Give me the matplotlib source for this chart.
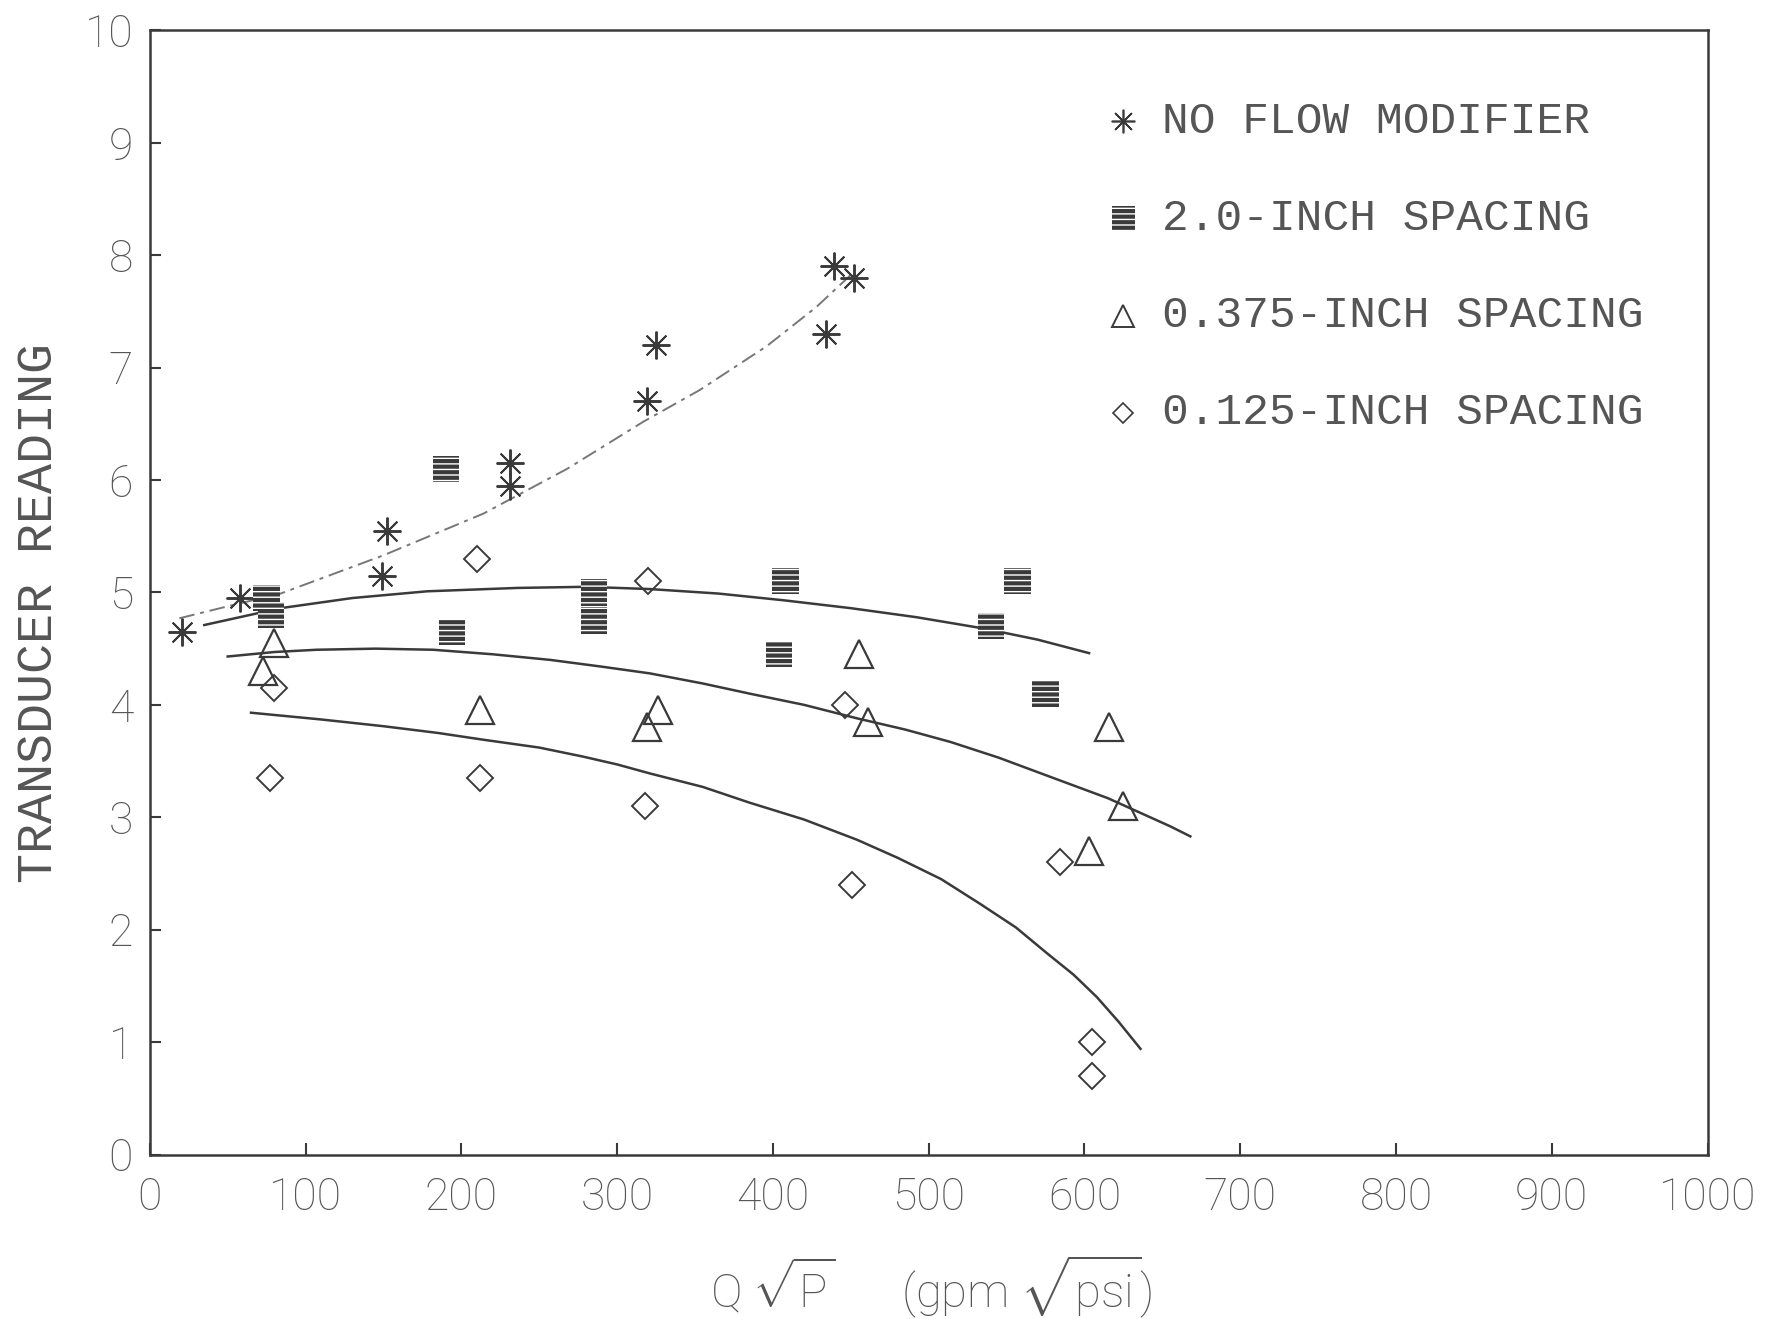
"""
Transducer reading vs Q*sqrt(P) for different flow modifier spacings.
"""

import matplotlib

matplotlib.use("Agg")
import matplotlib.pyplot as plt

plt.rcParams["mathtext.fontset"] = "custom"
plt.rcParams["mathtext.rm"] = "Roboto:light"

# measured points
no_flow_x = [21, 58, 149, 152, 231, 231, 319, 325, 434, 439, 452]
no_flow_y = [4.65, 4.95, 5.15, 5.55, 5.95, 6.15, 6.7, 7.2, 7.3, 7.9, 7.8]

sp20_x = [75, 78, 190, 194, 285, 285, 404, 408, 540, 557, 575]
sp20_y = [4.95, 4.8, 6.1, 4.65, 5.0, 4.75, 4.45, 5.1, 4.7, 5.1, 4.1]

sp375_x = [73, 80, 212, 319, 326, 455, 461, 603, 616, 625]
sp375_y = [4.3, 4.55, 3.95, 3.8, 3.95, 4.45, 3.85, 2.7, 3.8, 3.1]

sp125_x = [77, 80, 210, 212, 318, 320, 446, 451, 584, 605, 605]
sp125_y = [3.35, 4.15, 5.3, 3.35, 3.1, 5.1, 4.0, 2.4, 2.6, 1.0, 0.7]

# fitted curves
fit_noflow_x = [19, 54, 84, 150, 214, 268, 317, 353, 396, 428, 452]
fit_noflow_y = [4.77, 4.89, 4.99, 5.33, 5.70, 6.10, 6.52, 6.80, 7.19, 7.54, 7.85]

fit_20_x = [35, 84, 130, 178, 236, 280, 321, 365, 407, 450, 492, 535, 570, 603]
fit_20_y = [4.71, 4.86, 4.95, 5.01, 5.04, 5.05, 5.03, 4.99, 4.93, 4.86, 4.78, 4.68, 4.58, 4.46]

fit_375_x = [50, 80, 107, 145, 182, 220, 257, 290, 321, 355, 385, 420, 454, 485,
             514, 545, 578, 615, 655, 668]
fit_375_y = [4.43, 4.47, 4.49, 4.50, 4.49, 4.45, 4.40, 4.34, 4.28, 4.19, 4.10, 4.00,
             3.88, 3.78, 3.67, 3.53, 3.36, 3.17, 2.92, 2.83]

fit_125_x = [65, 110, 150, 185, 214, 250, 278, 300, 321, 355, 385, 420, 454, 480,
             508, 533, 556, 576, 593, 608, 622, 636]
fit_125_y = [3.93, 3.87, 3.81, 3.75, 3.69, 3.62, 3.54, 3.47, 3.39, 3.27, 3.13, 2.98,
             2.80, 2.64, 2.45, 2.23, 2.02, 1.79, 1.60, 1.40, 1.18, 0.94]

legend_labels = [
    "NO FLOW MODIFIER",
    "2.0-INCH SPACING",
    "0.375-INCH SPACING",
    "0.125-INCH SPACING",
]
legend_y = [9.19, 8.33, 7.46, 6.60]

x_ticks = list(range(0, 1001, 100))
y_ticks = list(range(0, 11))

INK = "#3a3a3a"
TEXT = "#555555"
tick_font = ["Roboto", "DejaVu Sans"]
mono_font = ["Liberation Mono", "DejaVu Sans Mono"]

fig = plt.figure(figsize=(17.66, 13.19), dpi=100)
ax = fig.add_axes([0.0848, 0.1247, 0.8821, 0.8523])

# curves
ax.plot(fit_noflow_x, fit_noflow_y, color="#777777", lw=1.4, ls=(0, (8, 3, 2, 3)))
ax.plot(fit_20_x, fit_20_y, color=INK, lw=1.8)
ax.plot(fit_375_x, fit_375_y, color=INK, lw=1.8)
ax.plot(fit_125_x, fit_125_y, color=INK, lw=1.8)

# markers
star = dict(marker=(8, 2, 0), ms=20, mew=1.4, color=INK, ls="none")
tri = dict(marker="^", ms=20, mfc="none", mec=INK, mew=1.6, ls="none")
dia = dict(marker="D", ms=13, mfc="none", mec=INK, mew=1.4, ls="none")
sq = dict(marker="s", s=360, facecolor=INK, edgecolor="white", hatch="---", linewidths=0)

ax.plot(no_flow_x, no_flow_y, **star)
ax.scatter(sp20_x, sp20_y, **sq, zorder=3)
ax.plot(sp375_x, sp375_y, **tri)
ax.plot(sp125_x, sp125_y, **dia)

# legend drawn inside the axes, like the plotter output
ax.plot([625], [legend_y[0]], marker=(8, 2, 0), ms=17, mew=1.2, color=INK, ls="none")
ax.scatter([625], [legend_y[1]], marker="s", s=280, facecolor=INK, edgecolor="white",
           hatch="---", linewidths=0, zorder=3)
ax.plot([625], [legend_y[2]], marker="^", ms=16, mfc="none", mec=INK, mew=1.4, ls="none")
ax.plot([625], [legend_y[3]], marker="D", ms=10, mfc="none", mec=INK, mew=1.2, ls="none")
for lbl, ly in zip(legend_labels, legend_y):
    ax.text(650, ly, lbl, fontsize=32, family=mono_font, color=TEXT,
            va="center", ha="left")

ax.set_xlim(0, 1000)
ax.set_ylim(0, 10)
ax.set_xticks(x_ticks)
ax.set_yticks(y_ticks)
ax.set_xticklabels([str(t) for t in x_ticks], family=tick_font, fontsize=32,
                   fontweight="light", color=TEXT)
ax.set_yticklabels([str(t) for t in y_ticks], family=tick_font, fontsize=32,
                   fontweight="light", color=TEXT)
ax.tick_params(axis="x", direction="in", length=9, width=1.5, color=INK, pad=16)
ax.tick_params(axis="y", direction="in", length=8, width=1.5, color=INK, pad=12)

for side in ax.spines.values():
    side.set_color(INK)
    side.set_linewidth(1.8)

fig.text(0.022, 0.535, "TRANSDUCER READING", rotation=90, fontsize=36,
         family=mono_font, color=TEXT, ha="center", va="center")
fig.text(0.527, 0.024, r"Q $\sqrt{\mathrm{P}}$      (gpm $\sqrt{\mathrm{psi}}$)",
         fontsize=34, family=tick_font, fontweight="light", color=TEXT,
         ha="center", va="center")

fig.savefig("out.png", dpi=100)
plt.close(fig)
